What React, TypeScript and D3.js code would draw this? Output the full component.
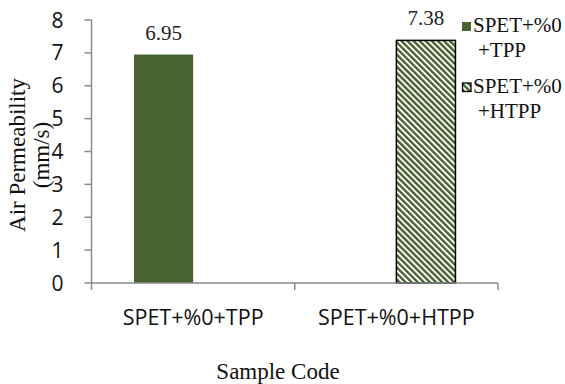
import React from "react";
import * as d3 from "d3";

const categories = ["SPET+%0+TPP", "SPET+%0+HTPP"];
const seriesNames = ["SPET+%0+TPP", "SPET+%0+HTPP"];
const legendLines = [["SPET+%0", "+TPP"], ["SPET+%0", "+HTPP"]];
const seriesTPP: (number | null)[] = [6.95, null];
const seriesHTPP: (number | null)[] = [null, 7.38];
const yTicks = [0, 1, 2, 3, 4, 5, 6, 7, 8];
const yTitle = ["Air Permeability", "(mm/s)"];
const xTitle = "Sample Code";

const W = 565;
const H = 384;
const GREEN = "#466330";
const AXIS = "#8a8a8a";
const SERIF = "'Liberation Serif', 'Times New Roman', serif";
const SANS = "'Open Sans', 'Noto Sans', sans-serif";

export default function App() {
  const plot = { left: 91.5, right: 498, top: 20, bottom: 283 };
  const x = d3.scaleBand<string>().domain(categories).range([plot.left, plot.right]).paddingInner(0).paddingOuter(0);
  const xi = d3.scaleBand<string>().domain(seriesNames).range([0, x.bandwidth()]).paddingInner(0).paddingOuter(0.72);
  const y = d3.scaleLinear().domain([0, 8]).range([plot.bottom, plot.top]);
  const series = [seriesTPP, seriesHTPP];

  const bars: { key: string; x: number; y: number; w: number; h: number; v: number; s: number }[] = [];
  series.forEach((vals, si) => {
    vals.forEach((v, ci) => {
      if (v == null) return;
      const bx = (x(categories[ci]) as number) + (xi(seriesNames[si]) as number);
      bars.push({ key: `${si}-${ci}`, x: bx, y: y(v), w: xi.bandwidth(), h: y(0) - y(v), v, s: si });
    });
  });

  const xTickPos = [plot.left, ...categories.map((c) => (x(c) as number) + x.bandwidth())];

  return (
    <svg width={W} height={H} style={{ position: "absolute", left: 0, top: 0, background: "#fff" }}>
      <defs>
        <pattern id="hatch" patternUnits="userSpaceOnUse" width={4.3} height={4.3} patternTransform="rotate(-45)">
          <rect x={0} y={0} width={4.3} height={4.3} fill="#fff" />
          <rect x={0} y={0} width={2.4} height={4.3} fill={GREEN} />
        </pattern>
      </defs>
      <rect x={0} y={0} width={W} height={H} fill="#fff" />

      {bars.map((b) => (
        <rect
          key={b.key}
          x={b.x}
          y={b.y}
          width={b.w}
          height={b.h}
          fill={b.s === 0 ? GREEN : "url(#hatch)"}
          stroke={b.s === 0 ? "none" : "#000"}
          strokeWidth={b.s === 0 ? 0 : 1.5}
        />
      ))}
      {bars.map((b) => (
        <text
          key={"l" + b.key}
          x={b.x + b.w / 2}
          y={b.y - 15}
          textAnchor="middle"
          fontFamily={SERIF}
          fontSize={21}
          fill="#222"
        >
          {b.v.toFixed(2)}
        </text>
      ))}

      {/* y axis */}
      <line x1={plot.left} x2={plot.left} y1={y(8)} y2={y(0)} stroke={AXIS} strokeWidth={1.5} />
      {yTicks.map((t) => (
        <g key={t}>
          <line x1={plot.left - 7} x2={plot.left} y1={y(t)} y2={y(t)} stroke={AXIS} strokeWidth={1.5} />
          <text x={plot.left - 28} y={y(t)} dy="0.36em" textAnchor="end" fontFamily={SANS} fontSize={21} fill="#111">
            {t}
          </text>
        </g>
      ))}

      {/* x axis */}
      <line x1={plot.left} x2={plot.right} y1={y(0)} y2={y(0)} stroke={AXIS} strokeWidth={1.5} />
      {xTickPos.map((p, i) => (
        <line key={i} x1={p} x2={p} y1={y(0)} y2={y(0) + 7} stroke={AXIS} strokeWidth={1.5} />
      ))}
      {categories.map((c) => (
        <text
          key={c}
          x={(x(c) as number) + x.bandwidth() / 2}
          y={325}
          textAnchor="middle"
          fontFamily={SANS}
          fontSize={21.5}
          fill="#111"
        >
          {c}
        </text>
      ))}

      {/* axis titles */}
      <text x={278} y={379} textAnchor="middle" fontFamily={SERIF} fontSize={23} fill="#111">
        {xTitle}
      </text>
      <g transform="translate(0,155) rotate(-90)">
        <text x={0} y={25} textAnchor="middle" fontFamily={SERIF} fontSize={23} fill="#111">
          {yTitle[0]}
        </text>
        <text x={0} y={49} textAnchor="middle" fontFamily={SERIF} fontSize={23} fill="#111">
          {yTitle[1]}
        </text>
      </g>

      {/* legend */}
      {legendLines.map((lines, i) => {
        const top = 22 + i * 61;
        return (
          <g key={i}>
            {i === 0 ? (
              <rect x={462} y={top} width={9} height={9} fill={GREEN} />
            ) : (
              <rect x={462.5} y={top} width={8.5} height={8.5} fill="url(#hatch)" stroke="#000" strokeWidth={1.3} />
            )}
            <text x={473} y={top + 10} fontFamily={SERIF} fontSize={21} fill="#111">
              {lines[0]}
            </text>
            <text x={478} y={top + 35} fontFamily={SERIF} fontSize={21} fill="#111">
              {lines[1]}
            </text>
          </g>
        );
      })}
    </svg>
  );
}
